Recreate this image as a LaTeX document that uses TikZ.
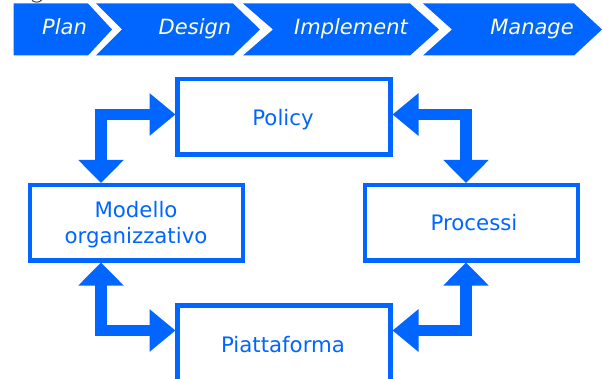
\documentclass[tikz,border=0pt]{standalone}
\usepackage{fontspec}
\setmainfont{DejaVu Sans}
\usetikzlibrary{arrows.meta}
\definecolor{brand}{HTML}{0066FF}
\definecolor{cream}{HTML}{FFFFCC}
\tikzset{
  x=1pt,y=-1pt,
  chev/.style={fill=brand,draw=none},
  chevlabel/.style={text=cream,font=\fontsize{21}{24}\selectfont\itshape,inner sep=0pt,anchor=base},
  boxn/.style={draw=brand,line width=4.5pt,fill=white,minimum width=213pt,minimum height=75.5pt,inner sep=0pt,outer sep=2pt},
  boxlabel/.style={text=brand,font=\fontsize{21.3}{26}\selectfont,inner sep=0pt,anchor=base},
  link/.style={draw=brand,line width=11.5pt,line join=miter},
  hv/.style={{Triangle[length=26pt,width=41pt,sep=0pt]}-{Triangle[length=23pt,width=44pt,sep=0pt]}},
}
\begin{document}
\begin{tikzpicture}
\useasboundingbox (0,0) rectangle (602,379);
\clip (0,0) rectangle (602,379);
\draw[black!80,line width=0.9pt] (32,0.4) .. controls (34.5,2.8) and (39.5,2.8) .. (41.5,0);
\fill[chev] (13.5,3.5)--(88,3.5)--(112,29.5)--(88,55.5)--(13.5,55.5)--cycle;
\fill[chev] (96,3.5)--(233,3.5)--(260,29.5)--(233,55.5)--(96,55.5)--(122,29.5)--cycle;
\fill[chev] (243,3.5)--(410,3.5)--(439,29.5)--(410,55.5)--(243,55.5)--(273,29.5)--cycle;
\fill[chev] (423,3.5)--(574,3.5)--(602,29.5)--(574,55.5)--(423,55.5)--(452,29.5)--cycle;
\node[chevlabel] (plan) at (64.5,34.5) {Plan};
\node[chevlabel] (design) at (195,34.5) {Design};
\node[chevlabel] (implement) at (351,34.5) {Implement};
\node[chevlabel] (manage) at (532,34.5) {Manage};
\node[boxn] (policy) at (284,116.75) {};
\node[boxn] (modello) at (136.25,222.75) {};
\node[boxn] (processi) at (471.25,222.75) {};
\node[boxn,minimum height=120pt,anchor=north] (piatta) at (284,303.5) {};
\node[boxlabel] (tpolicy) at (283,125.5) {Policy};
\node[boxlabel] (tmod) at (136,218) {Modello};
\node[boxlabel] (torg) at (136,244) {organizzativo};
\node[boxlabel] (tproc) at (474,231) {Processi};
\node[boxlabel] (tpiat) at (283,352) {Piattaforma};
\coordinate (lt) at (101,114.5);
\coordinate (rt) at (466,114.5);
\coordinate (lb) at (101,330.5);
\coordinate (rb) at (466,330.5);
\draw[link,hv] (policy.west |- lt) -| (modello.north -| lt);
\draw[link,hv] (policy.east |- rt) -| (processi.north -| rt);
\draw[link,hv] (piatta.west |- lb) -| (modello.south -| lb);
\draw[link,hv] (piatta.east |- rb) -| (processi.south -| rb);
\end{tikzpicture}
\end{document}
